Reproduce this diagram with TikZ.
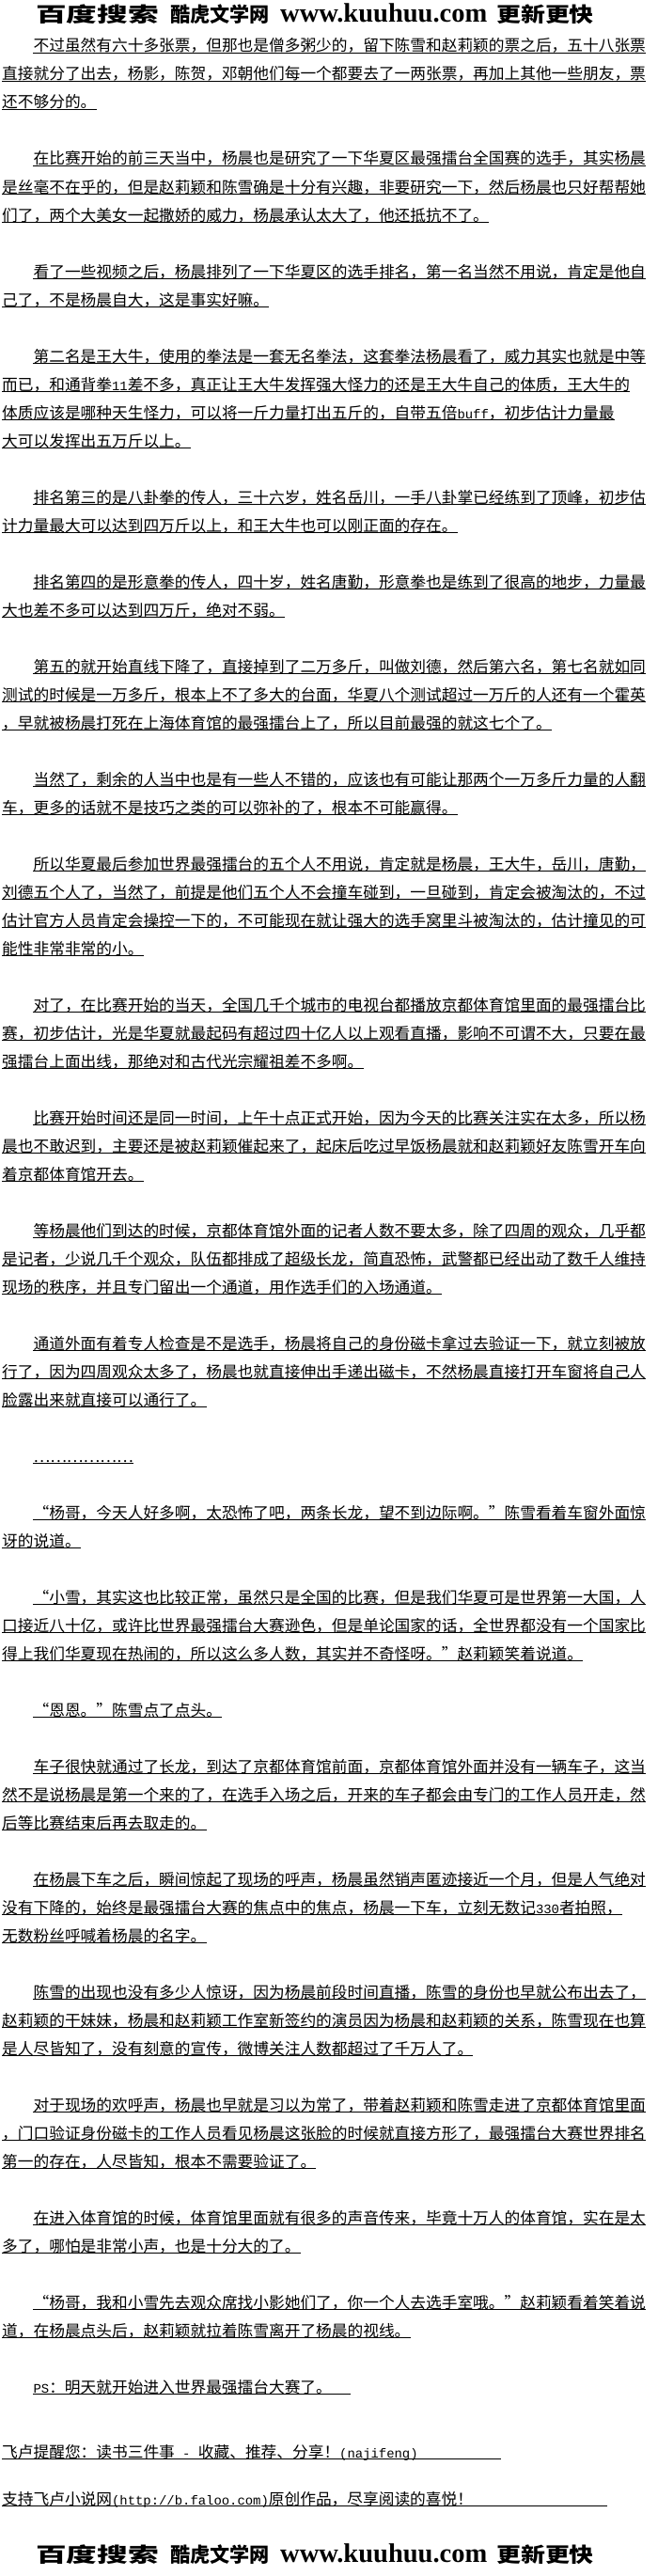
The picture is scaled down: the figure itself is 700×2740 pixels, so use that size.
\documentclass[tikz,border=0pt]{standalone}
\usepackage{fontspec}
\setmainfont{Noto Sans CJK SC}
\newfontfamily\hwfont{Liberation Mono}
\newfontfamily\logoserif{Liberation Serif}
\newcommand\hw[1]{{\hwfont\fontsize{13.9}{16}\selectfont #1}}
\def\tline(#1)(#2,#3)#4{\node[txt] (#1) at (#2,#3) {#4}; \draw[uline] ([yshift=-1.6pt]#1.base west) -- ([yshift=-1.6pt]#1.base east);}

\begin{document}
\begin{tikzpicture}[x=1pt, y=-1pt,
	txt/.style={anchor=base west, inner sep=0pt, font=\fontsize{16.7}{20}\selectfont},
	logo/.style={anchor=base west, inner sep=0pt, font=\fontsize{24}{26}\selectfont\bfseries},
	uline/.style={line width=1pt}]
		%%%%% START %%%%%
		
		\fill[white] (0,0) rectangle (700,2740);
		\useasboundingbox (0,0) rectangle (700,2740);
		
		\node[logo] (hd1) at (38,24) {\scalebox{1.36}[0.9]{百度搜索}};
		\node[logo] (hd2) at (181,24) {\scalebox{0.88}[0.9]{酷虎文学网}};
		\node[anchor=base west, inner sep=0pt, font=\logoserif\bfseries\fontsize{28.5}{30}\selectfont] (hd3) at (298,24) {www.kuuhuu.com};
		\node[logo] (hd4) at (528,24) {\scalebox{1.08}[0.9]{更新更快}};
		
		\tline(p1a)(35.4,55){不过虽然有六十多张票，但那也是僧多粥少的，留下陈雪和赵莉颖的票之后，五十八张票}
		\tline(p1b)(2,85){直接就分了出去，杨影，陈贺，邓朝他们每一个都要去了一两张票，再加上其他一些朋友，票}
		\tline(p1c)(2,115){还不够分的。}
		
		\tline(p2a)(35.4,175){在比赛开始的前三天当中，杨晨也是研究了一下华夏区最强擂台全国赛的选手，其实杨晨}
		\tline(p2b)(2,205){是丝毫不在乎的，但是赵莉颖和陈雪确是十分有兴趣，非要研究一下，然后杨晨也只好帮帮她}
		\tline(p2c)(2,235){们了，两个大美女一起撒娇的威力，杨晨承认太大了，他还抵抗不了。}
		
		\tline(p3a)(35.4,295){看了一些视频之后，杨晨排列了一下华夏区的选手排名，第一名当然不用说，肯定是他自}
		\tline(p3b)(2,325){己了，不是杨晨自大，这是事实好嘛。}
		
		\tline(p4a)(35.4,385){第二名是王大牛，使用的拳法是一套无名拳法，这套拳法杨晨看了，威力其实也就是中等}
		\tline(p4b)(2,415){而已，和通背拳\hw{11}差不多，真正让王大牛发挥强大怪力的还是王大牛自己的体质，王大牛的}
		\tline(p4c)(2,445){体质应该是哪种天生怪力，可以将一斤力量打出五斤的，自带五倍\hw{buff}，初步估计力量最}
		\tline(p4d)(2,475){大可以发挥出五万斤以上。}
		
		\tline(p5a)(35.4,535){排名第三的是八卦拳的传人，三十六岁，姓名岳川，一手八卦掌已经练到了顶峰，初步估}
		\tline(p5b)(2,565){计力量最大可以达到四万斤以上，和王大牛也可以刚正面的存在。}
		
		\tline(p6a)(35.4,625){排名第四的是形意拳的传人，四十岁，姓名唐勤，形意拳也是练到了很高的地步，力量最}
		\tline(p6b)(2,655){大也差不多可以达到四万斤，绝对不弱。}
		
		\tline(p7a)(35.4,715){第五的就开始直线下降了，直接掉到了二万多斤，叫做刘德，然后第六名，第七名就如同}
		\tline(p7b)(2,745){测试的时候是一万多斤，根本上不了多大的台面，华夏八个测试超过一万斤的人还有一个霍英}
		\tline(p7c)(2,775){，早就被杨晨打死在上海体育馆的最强擂台上了，所以目前最强的就这七个了。}
		
		\tline(p8a)(35.4,835){当然了，剩余的人当中也是有一些人不错的，应该也有可能让那两个一万多斤力量的人翻}
		\tline(p8b)(2,865){车，更多的话就不是技巧之类的可以弥补的了，根本不可能赢得。}
		
		\tline(p9a)(35.4,925){所以华夏最后参加世界最强擂台的五个人不用说，肯定就是杨晨，王大牛，岳川，唐勤，}
		\tline(p9b)(2,955){刘德五个人了，当然了，前提是他们五个人不会撞车碰到，一旦碰到，肯定会被淘汰的，不过}
		\tline(p9c)(2,985){估计官方人员肯定会操控一下的，不可能现在就让强大的选手窝里斗被淘汰的，估计撞见的可}
		\tline(p9d)(2,1015){能性非常非常的小。}
		
		\tline(p10a)(35.4,1075){对了，在比赛开始的当天，全国几千个城市的电视台都播放京都体育馆里面的最强擂台比}
		\tline(p10b)(2,1105){赛，初步估计，光是华夏就最起码有超过四十亿人以上观看直播，影响不可谓不大，只要在最}
		\tline(p10c)(2,1135){强擂台上面出线，那绝对和古代光宗耀祖差不多啊。}
		
		\tline(p11a)(35.4,1195){比赛开始时间还是同一时间，上午十点正式开始，因为今天的比赛关注实在太多，所以杨}
		\tline(p11b)(2,1225){晨也不敢迟到，主要还是被赵莉颖催起来了，起床后吃过早饭杨晨就和赵莉颖好友陈雪开车向}
		\tline(p11c)(2,1255){着京都体育馆开去。}
		
		\tline(p12a)(35.4,1315){等杨晨他们到达的时候，京都体育馆外面的记者人数不要太多，除了四周的观众，几乎都}
		\tline(p12b)(2,1345){是记者，少说几千个观众，队伍都排成了超级长龙，简直恐怖，武警都已经出动了数千人维持}
		\tline(p12c)(2,1375){现场的秩序，并且专门留出一个通道，用作选手们的入场通道。}
		
		\tline(p13a)(35.4,1435){通道外面有着专人检查是不是选手，杨晨将自己的身份磁卡拿过去验证一下，就立刻被放}
		\tline(p13b)(2,1465){行了，因为四周观众太多了，杨晨也就直接伸出手递出磁卡，不然杨晨直接打开车窗将自己人}
		\tline(p13c)(2,1495){脸露出来就直接可以通行了。}
		
		\tline(p14a)(35.4,1555){………………}
		
		\tline(p15a)(35.4,1615){“杨哥，今天人好多啊，太恐怖了吧，两条长龙，望不到边际啊。”陈雪看着车窗外面惊}
		\tline(p15b)(2,1645){讶的说道。}
		
		\tline(p16a)(35.4,1705){“小雪，其实这也比较正常，虽然只是全国的比赛，但是我们华夏可是世界第一大国，人}
		\tline(p16b)(2,1735){口接近八十亿，或许比世界最强擂台大赛逊色，但是单论国家的话，全世界都没有一个国家比}
		\tline(p16c)(2,1765){得上我们华夏现在热闹的，所以这么多人数，其实并不奇怪呀。”赵莉颖笑着说道。}
		
		\tline(p17a)(35.4,1825){“恩恩。”陈雪点了点头。}
		
		\tline(p18a)(35.4,1885){车子很快就通过了长龙，到达了京都体育馆前面，京都体育馆外面并没有一辆车子，这当}
		\tline(p18b)(2,1915){然不是说杨晨是第一个来的了，在选手入场之后，开来的车子都会由专门的工作人员开走，然}
		\tline(p18c)(2,1945){后等比赛结束后再去取走的。}
		
		\tline(p19a)(35.4,2005){在杨晨下车之后，瞬间惊起了现场的呼声，杨晨虽然销声匿迹接近一个月，但是人气绝对}
		\tline(p19b)(2,2035){没有下降的，始终是最强擂台大赛的焦点中的焦点，杨晨一下车，立刻无数记\hw{330}者拍照，}
		\tline(p19c)(2,2065){无数粉丝呼喊着杨晨的名字。}
		
		\tline(p20a)(35.4,2125){陈雪的出现也没有多少人惊讶，因为杨晨前段时间直播，陈雪的身份也早就公布出去了，}
		\tline(p20b)(2,2155){赵莉颖的干妹妹，杨晨和赵莉颖工作室新签约的演员因为杨晨和赵莉颖的关系，陈雪现在也算}
		\tline(p20c)(2,2185){是人尽皆知了，没有刻意的宣传，微博关注人数都超过了千万人了。}
		
		\tline(p21a)(35.4,2245){对于现场的欢呼声，杨晨也早就是习以为常了，带着赵莉颖和陈雪走进了京都体育馆里面}
		\tline(p21b)(2,2275){，门口验证身份磁卡的工作人员看见杨晨这张脸的时候就直接方形了，最强擂台大赛世界排名}
		\tline(p21c)(2,2305){第一的存在，人尽皆知，根本不需要验证了。}
		
		\tline(p22a)(35.4,2365){在进入体育馆的时候，体育馆里面就有很多的声音传来，毕竟十万人的体育馆，实在是太}
		\tline(p22b)(2,2395){多了，哪怕是非常小声，也是十分大的了。}
		
		\tline(p23a)(35.4,2455){“杨哥，我和小雪先去观众席找小影她们了，你一个人去选手室哦。”赵莉颖看着笑着说}
		\tline(p23b)(2,2485){道，在杨晨点头后，赵莉颖就拉着陈雪离开了杨晨的视线。}
		
		% ps and site lines, rule runs on past the text
		\node[txt] (p24a) at (35.4,2545) {\hw{PS}：明天就开始进入世界最强擂台大赛了。};
		\coordinate (p24e) at (373,2546.6);
		\draw[uline] ([yshift=-1.6pt]p24a.base west) -- (p24e);
		
		\node[txt] (p25a) at (2,2614) {飞卢提醒您：读书三件事\hw{ - }收藏、推荐、分享！\hw{(najifeng)}};
		\coordinate (p25e) at (533,2615.6);
		\draw[uline] ([yshift=-1.6pt]p25a.base west) -- (p25e);
		
		\node[txt] (p26a) at (2,2664) {支持飞卢小说网\hw{(http://b.faloo.com)}原创作品，尽享阅读的喜悦！};
		\coordinate (p26e) at (646,2665.6);
		\draw[uline] ([yshift=-1.6pt]p26a.base west) -- (p26e);
		
		\node[logo] (ft1) at (38,2725) {\scalebox{1.36}[0.9]{百度搜索}};
		\node[logo] (ft2) at (181,2725) {\scalebox{0.88}[0.9]{酷虎文学网}};
		\node[anchor=base west, inner sep=0pt, font=\logoserif\bfseries\fontsize{28.5}{30}\selectfont] (ft3) at (298,2725) {www.kuuhuu.com};
		\node[logo] (ft4) at (528,2725) {\scalebox{1.08}[0.9]{更新更快}};
		
		%%%%% END %%%%%
	\end{tikzpicture}
\end{document}
